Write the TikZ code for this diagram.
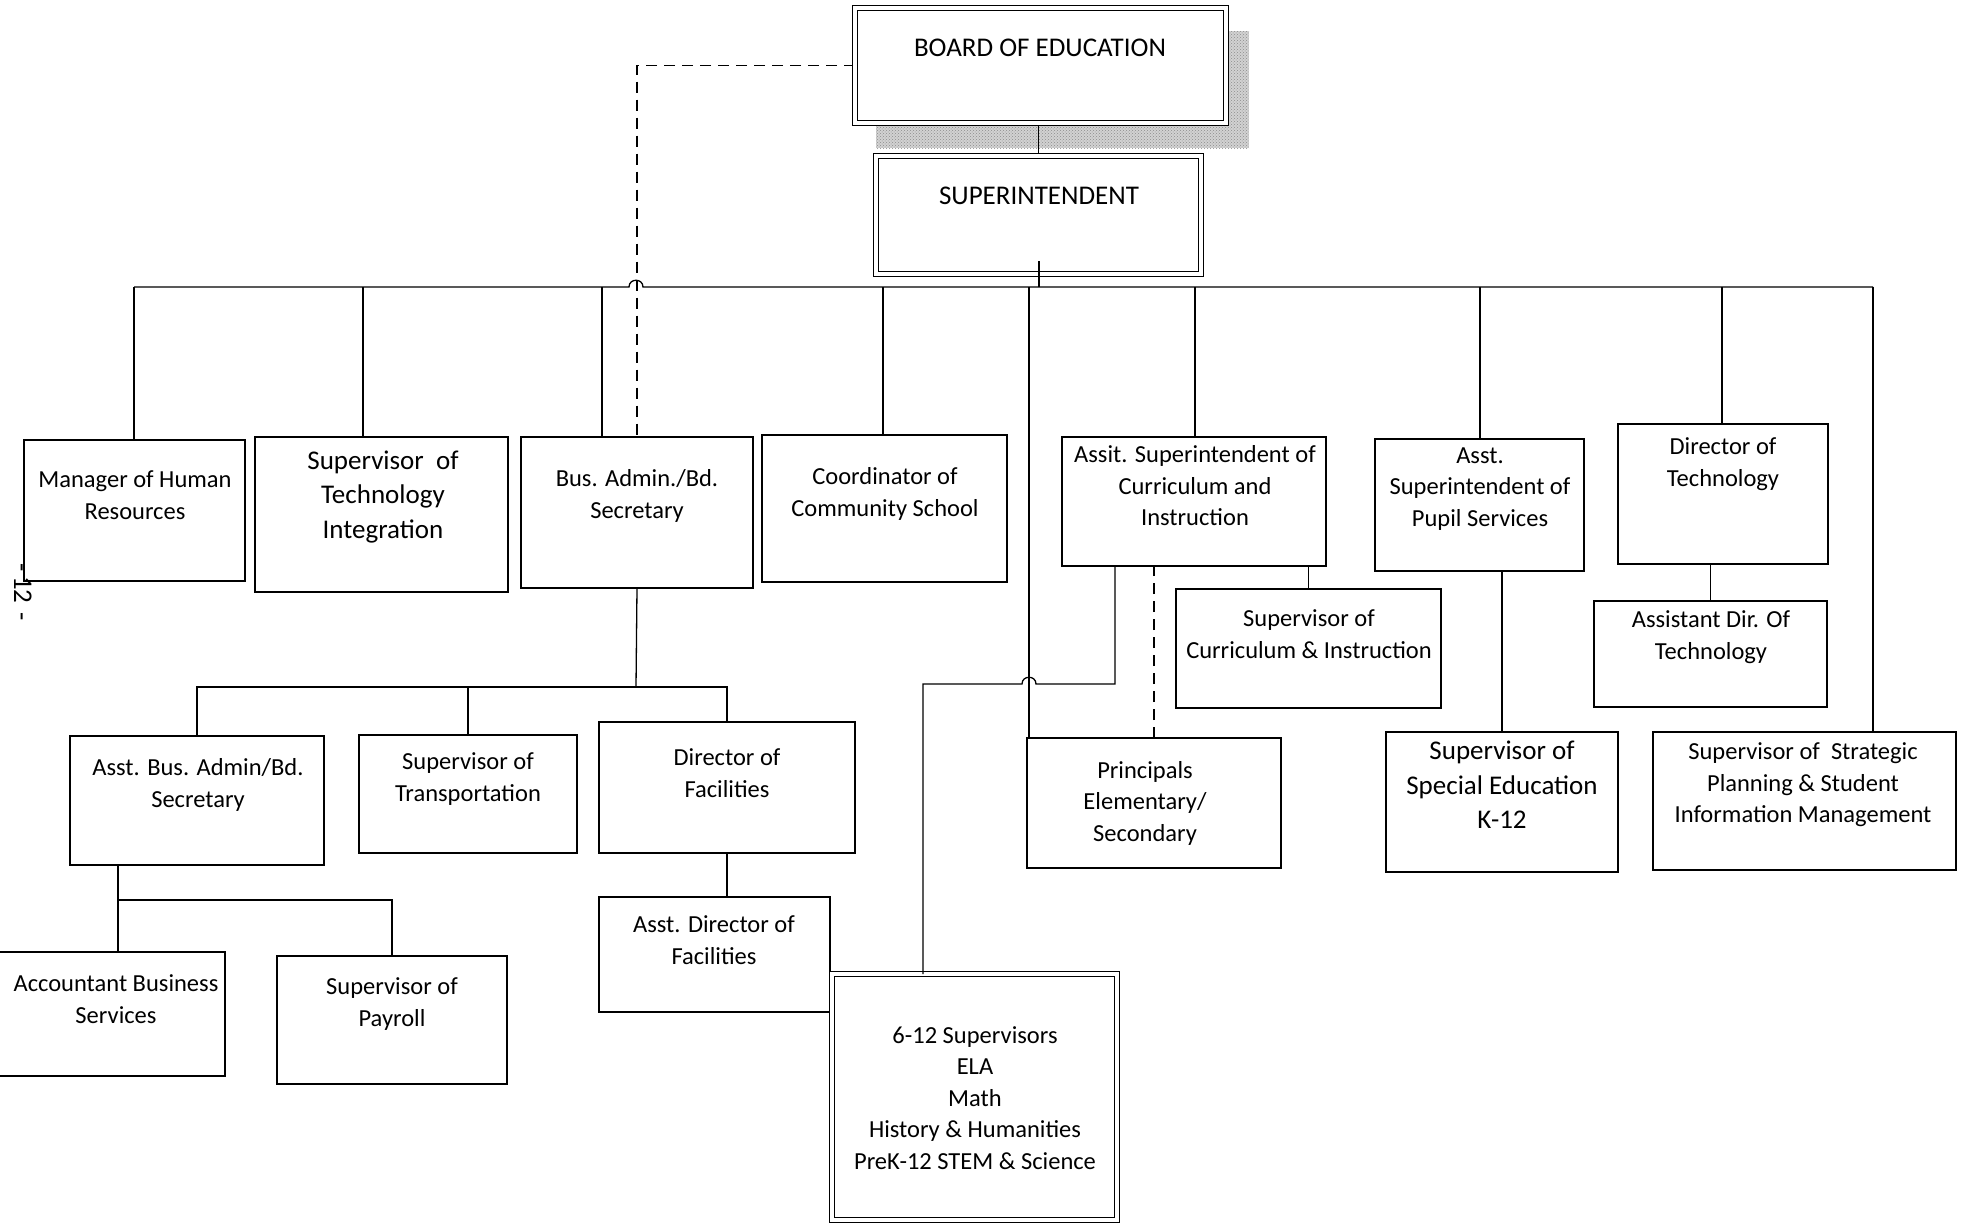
\documentclass[tikz,border=0pt]{standalone}
\usepackage{fontspec}
\setmainfont{Carlito}
\usetikzlibrary{patterns}
\tikzset{
  box/.style={draw, line width=1.6pt, fill=white, inner sep=0pt, outer sep=0pt},
  dbox/.style={draw, line width=1.1pt, double=white, double distance=3.2pt, fill=white, inner sep=0pt, outer sep=0pt},
  con/.style={line width=1.3pt},
  dcon/.style={line width=1.3pt, dash pattern=on 11pt off 7pt},
  txt/.style={align=center, inner sep=0pt, font=\fontsize{24.5}{31.5}\selectfont},
  btxt/.style={align=center, inner sep=0pt, font=\fontsize{27}{34.5}\selectfont},
  htxt/.style={align=center, inner sep=0pt, font=\fontsize{27}{34}\selectfont}
}
\newcommand\orgbox[6][box]{%
  \pgfmathsetmacro\bw{#5-#3}\pgfmathsetmacro\bh{#6-#4}%
  \node[#1, minimum width=\bw pt, minimum height=\bh pt] (#2) at ({(#3+#5)/2},{(#4+#6)/2}) {};}
\begin{document}
\begin{tikzpicture}[x=1pt,y=-1pt]
\useasboundingbox[fill=white] (0,0) rectangle (1962,1224);

% shadow of board
\fill[gray!35] (876,31) rectangle (1249,148);
\fill[pattern=crosshatch dots, pattern color=gray!90] (876,31) rectangle (1249,148);

% bus line coordinates
\coordinate (d1) at (134,287);
\coordinate (d2) at (363,287);
\coordinate (d3) at (602,287);
\coordinate (d4) at (883,287);
\coordinate (d5) at (1029,287);
\coordinate (d6) at (1195,287);
\coordinate (d7) at (1480,287);
\coordinate (d8) at (1722,287);
\coordinate (d9) at (1873,287);
\coordinate (h2) at (636,687);
\coordinate (h3) at (118,900);
\coordinate (k1) at (923,684);
\coordinate (k2) at (1115,684);
\coordinate (tr) at (1039,261);

% boxes (geometry only)
\orgbox[dbox]{board}{855}{8}{1226}{123}
\orgbox[dbox]{super}{876}{156}{1201}{274}
\orgbox{hr}{24}{440}{245}{581}
\orgbox{techint}{255}{437}{508}{592}
\orgbox{busadmin}{521}{437}{753}{588}
\orgbox{coord}{762}{435}{1007}{582}
\orgbox{assitsup}{1062}{437}{1326}{566}
\orgbox{pupil}{1375}{439}{1584}{571}
\orgbox{dirtech}{1618}{424}{1828}{564}
\orgbox{asstbus}{70}{736}{324}{865}
\orgbox{transport}{359}{735}{577}{853}
\orgbox{dirfac}{599}{722}{855}{853}
\orgbox{account}{-20}{952}{225}{1076}
\orgbox{payroll}{277}{956}{507}{1084}
\orgbox{asstdir}{599}{897}{830}{1012}
\orgbox[dbox]{sup612}{832}{974}{1117}{1220}
\orgbox{principals}{1027}{738}{1281}{868}
\orgbox{supci}{1176}{589}{1441}{708}
\orgbox{specialed}{1386}{732}{1618}{872}
\orgbox{assistdir}{1594}{601}{1827}{707}
\orgbox{strategic}{1653}{732}{1956}{870}

% connectors
\draw[con] (super.north) -- (super.north |- board.south);
\draw[con] (d1) -- (629,287) .. controls (629,278) and (643,278) .. (643,287) -- (d9);
\draw[dcon] (board.west) -| (busadmin.north);
\draw[con] (d1) -- (d1 |- hr.north);
\draw[con] (d2) -- (d2 |- techint.north);
\draw[con] (d3) -- (d3 |- busadmin.north);
\draw[con] (d4) -- (d4 |- coord.north);
\draw[con] (d5) -- (d5 |- principals.north);
\draw[con] (d6) -- (d6 |- assitsup.north);
\draw[con] (d7) -- (d7 |- pupil.north);
\draw[con] (d8) -- (d8 |- dirtech.north);
\draw[con] (d9) -- (d9 |- strategic.north);

\draw[con] (busadmin.south) -- (h2);
\draw[con] (asstbus.north) -- (asstbus.north |- h2) -- (dirfac.north |- h2) -- (dirfac.north);
\draw[con] (transport.north) -- (transport.north |- h2);
\draw[con] (asstbus.south -| h3) -- (h3) -- (payroll.north |- h3) -- (payroll.north);
\draw[con] (h3) -- (h3 |- account.north);
\draw[con] (dirfac.south) -- (dirfac.south |- asstdir.north);

\draw[con] (k1 |- sup612.north) -- (k1) -- (1022,684) .. controls (1022,675) and (1036,675) .. (1036,684) -- (k2) -- (k2 |- assitsup.south);
\draw[dcon] (principals.north) -- (principals.north |- assitsup.south);
\draw[con] (supci.north) -- (supci.north |- assitsup.south);
\draw[con] (specialed.north) -- (specialed.north |- pupil.south);
\draw[con] (assistdir.north) -- (assistdir.north |- dirtech.south);

% redraw boxes on top of connectors
\orgbox[dbox]{board2}{855}{8}{1226}{123}
\orgbox[dbox]{super2}{876}{156}{1201}{274}
\orgbox{busadmin2}{521}{437}{753}{588}
\orgbox{assitsup2}{1062}{437}{1326}{566}
\orgbox{pupil2}{1375}{439}{1584}{571}
\orgbox{dirtech2}{1618}{424}{1828}{564}
\orgbox{asstbus2}{70}{736}{324}{865}
\orgbox{dirfac2}{599}{722}{855}{853}

% trunk from superintendent (starts inside the box)
\draw[con] (tr) -- (tr |- d1);

% texts
\node[htxt] (board-t) at (1040,48) {BOARD OF EDUCATION};
\node[htxt] (super-t) at (1039,196) {SUPERINTENDENT};
\node[txt] (hr-t) at (135,495) {Manager of Human\\Resources};
\node[btxt] (techint-t) at (383,497) {Supervisor\ \ of\\Technology\\Integration};
\node[txt] (busadmin-t) at (637,496) {Bus. Admin./Bd.\\Secretary};
\node[txt] (coord-t) at (885,494) {Coordinator of\\Community School};
\node[txt] (assitsup-t) at (1195,486) {Assit. Superintendent of\\Curriculum and\\Instruction};
\node[txt] (pupil-t) at (1480,489) {Asst.\\Superintendent of\\Pupil Services};
\node[txt] (dirtech-t) at (1723,464) {Director of\\Technology};
\node[txt] (asstbus-t) at (198,785) {Asst. Bus. Admin/Bd.\\Secretary};
\node[txt] (transport-t) at (468,779) {Supervisor of\\Transportation};
\node[txt] (dirfac-t) at (727,773) {Director of\\Facilities};
\node[txt] (account-t) at (116,999) {Accountant Business\\Services};
\node[txt] (payroll-t) at (392,1004) {Supervisor of\\Payroll};
\node[txt] (asstdir-t) at (714,940) {Asst. Director of\\Facilities};
\node[txt] (sup612-t) at (975,1098) {6-12 Supervisors\\ELA\\Math\\History \& Humanities\\PreK-12 STEM \& Science};
\node[txt] (principals-t) at (1145,803) {Principals\\Elementary/\\Secondary};
\node[txt] (supci-t) at (1309,634) {Supervisor of\\Curriculum \& Instruction};
\node[btxt] (specialed-t) at (1502,785) {Supervisor of\\Special Education\\K-12};
\node[txt] (assistdir-t) at (1711,637) {Assistant Dir. Of\\Technology};
\node[txt] (strategic-t) at (1803,785) {Supervisor of\ \ Strategic\\Planning \& Student\\Information Management};
\node[txt, rotate=-90, font=\fontsize{27}{30}\selectfont] (page-t) at (23,592) {-\,12\,\,-};
\end{tikzpicture}
\end{document}
